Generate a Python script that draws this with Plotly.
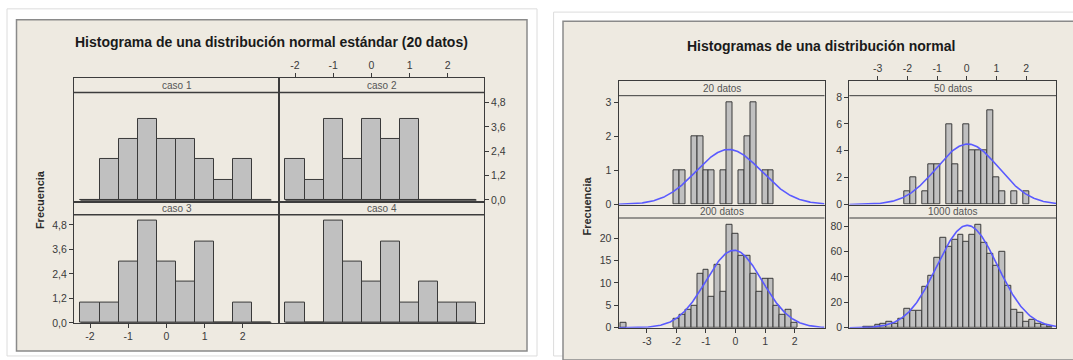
import numpy as np
import plotly.graph_objects as go

W, H = 1073, 360

# ------------------------------------------------------------------ data
left_title = "Histograma de una distribución normal estándar (20 datos)"
left_panels = ["caso 1", "caso 2", "caso 3", "caso 4"]
left_bins = [-2.0, -1.5, -1.0, -0.5, 0.0, 0.5, 1.0, 1.5, 2.0, 2.5]
caso1 = [0, 2, 3, 4, 3, 3, 2, 1, 2, 0]
caso2 = [2, 1, 4, 2, 4, 3, 4, 0, 0, 0]
caso3 = [1, 1, 3, 5, 3, 2, 4, 0, 1, 0]
caso4 = [1, 0, 5, 3, 2, 4, 1, 2, 1, 1]
left_yticks = [0, 1.2, 2.4, 3.6, 4.8]
left_xticks = [-2, -1, 0, 1, 2]
left_xticktext = ["-2", "-1", "0", "1", "2"]

right_title = "Histogramas de una distribución normal"
right_panels = ["20 datos", "50 datos", "200 datos", "1000 datos"]
bins20 = [-2.0, -1.8, -1.4, -1.2, -1.0, -0.8, -0.4, -0.2, 0.2, 0.4, 0.6, 1.0, 1.2]
counts20 = [1, 1, 2, 2, 1, 1, 1, 3, 1, 2, 3, 1, 1]
bins50 = [-2.0, -1.8, -1.4, -1.2, -1.0, -0.6, -0.4, -0.2, 0.0, 0.2, 0.4, 0.6,
          0.8, 1.0, 1.2, 1.6, 2.0]
counts50 = [1, 2, 1, 3, 3, 6, 3, 1, 6, 4, 4, 4, 7, 2, 1, 1, 1]
bins200 = [-3.8, -2.0, -1.8, -1.6, -1.4, -1.2, -1.0, -0.8, -0.6, -0.4, -0.2,
           0.0, 0.2, 0.4, 0.6, 0.8, 1.0, 1.2, 1.4, 1.6, 1.8, 2.0]
counts200 = [1, 2, 3, 4, 5, 12, 13, 7, 14, 8, 23, 21, 16, 16, 12, 8, 11, 11,
             5, 3, 4, 1]
bins1000 = [-3.4, -3.2, -3.0, -2.8, -2.6, -2.4, -2.2, -2.0, -1.8, -1.6, -1.4,
            -1.2, -1.0, -0.8, -0.6, -0.4, -0.2, 0.0, 0.2, 0.4, 0.6, 0.8, 1.0,
            1.2, 1.4, 1.6, 1.8, 2.0, 2.2, 2.4, 2.6, 2.8]
counts1000 = [1, 1, 2, 3, 5, 3, 7, 15, 13, 13, 32, 41, 55, 71, 64, 69, 73, 68,
              73, 81, 67, 58, 49, 60, 33, 14, 12, 5, 6, 3, 2, 1]
# fitted normal curves: (mean, sd, peak height)
fit20 = (-0.23, 1.10, 1.62)
fit50 = (0.03, 1.05, 4.5)
fit200 = (-0.05, 0.95, 17.3)
fit1000 = (0.02, 1.02, 80.6)
right_yticks = [[0, 1, 2, 3], [0, 2, 4, 6, 8], [0, 5, 10, 15, 20],
                [0, 20, 40, 60, 80]]
right_xticks = [-3, -2, -1, 0, 1, 2]
right_xticktext = ["-3", "-2", "-1", "0", "1", "2"]

# ------------------------------------------------------------------ layout geometry (pixels)
left_cells = [
    dict(x0=74, x1=279, strip=79.3, top=94, zero=203.3, bottom=205, ytop=5.3),
    dict(x0=279, x1=484, strip=79.3, top=94, zero=203.3, bottom=205, ytop=5.3),
    dict(x0=74, x1=279, strip=205, top=218.3, zero=328.3, bottom=328.3, ytop=5.3),
    dict(x0=279, x1=484, strip=205, top=218.3, zero=328.3, bottom=328.3, ytop=5.3),
]
right_cells = [
    dict(x0=618.5, x1=824.5, strip=82.7, top=97.3, zero=208.0, bottom=208.0, ytop=3.2),
    dict(x0=849.3, x1=1056, strip=82.7, top=97.3, zero=208.0, bottom=208.0, ytop=8.1),
    dict(x0=618.5, x1=824.5, strip=209.3, top=221.7, zero=333.3, bottom=333.3, ytop=24.5),
    dict(x0=849.3, x1=1056, strip=209.3, top=221.7, zero=333.3, bottom=333.3, ytop=86.4),
]
left_xrange = [-2.42, 2.95]
right_xrange = [-3.96, 3.01]

FONT = "Liberation Sans"
TICKC = "#3a3a3a"
LINEC = "#3c3c3c"
BARFILL = "#c0c0c0"
BARLINE = "#3a3a3a"
CURVE = "#5a5aff"


def px(x):
    return x / W


def py(y):
    return 1 - y / H


fig = go.Figure()
layout_axes = {}
shapes = []
annotations = []

# background cards
shapes.append(dict(type="rect", xref="paper", yref="paper", x0=px(7), x1=px(537),
                   y0=py(362), y1=py(9), fillcolor="white",
                   line=dict(color="#dcdcdc", width=1), layer="below"))
shapes.append(dict(type="rect", xref="paper", yref="paper", x0=px(16.5), x1=px(527),
                   y0=py(357), y1=py(20), fillcolor="#eeeae1",
                   line=dict(color="#8a8a8a", width=1.5), layer="below"))
shapes.append(dict(type="rect", xref="paper", yref="paper", x0=px(553.6), x1=px(1080),
                   y0=py(362), y1=py(12.3), fillcolor="white",
                   line=dict(color="#dcdcdc", width=1), layer="below"))
shapes.append(dict(type="rect", xref="paper", yref="paper", x0=px(563), x1=px(1085),
                   y0=py(366), y1=py(21.7), fillcolor="#eeeae1",
                   line=dict(color="#8a8a8a", width=1.5), layer="below"))


def add_cell(i, cell, xrange, label, strip_w):
    ppu = (cell["zero"] - cell["top"]) / cell["ytop"]
    yr = [-(cell["bottom"] - cell["zero"]) / ppu, (cell["zero"] - cell["strip"]) / ppu]
    sfx = "" if i == 1 else str(i)
    layout_axes["xaxis" + sfx] = dict(
        domain=[px(cell["x0"]), px(cell["x1"])], range=xrange, anchor="y" + sfx,
        showline=True, mirror=True, linecolor=LINEC, linewidth=1,
        showgrid=False, zeroline=False, showticklabels=False, ticks="",
        fixedrange=True)
    layout_axes["yaxis" + sfx] = dict(
        domain=[py(cell["bottom"]), py(cell["strip"])], range=yr, anchor="x" + sfx,
        showline=True, mirror=True, linecolor=LINEC, linewidth=1,
        showgrid=False, zeroline=False, showticklabels=False, ticks="",
        fixedrange=True)
    shapes.append(dict(type="line", xref="paper", yref="paper",
                       x0=px(cell["x0"]), x1=px(cell["x1"]),
                       y0=py(cell["top"]), y1=py(cell["top"]),
                       line=dict(color=LINEC, width=strip_w)))
    annotations.append(dict(text=label, xref="paper", yref="paper",
                            x=px((cell["x0"] + cell["x1"]) / 2),
                            y=py((cell["strip"] + cell["top"]) / 2),
                            showarrow=False, xanchor="center", yanchor="middle",
                            font=dict(family=FONT, size=10, color="#555555")))
    return "x" + sfx, "y" + sfx


def tick_axis(ax, vals, text=None, side=None, fmt=None):
    d = dict(showticklabels=True, ticks="outside", ticklen=4, tickwidth=1,
             tickcolor=TICKC, tickvals=vals,
             tickfont=dict(family=FONT, size=10.5, color=TICKC))
    if text is not None:
        d["ticktext"] = text
    if side is not None:
        d["side"] = side
    if fmt is not None:
        d["tickformat"] = fmt
    layout_axes[ax].update(d)


# -------- left group
left_data = [caso1, caso2, caso3, caso4]
lw = left_bins[1] - left_bins[0]
for k, (cell, counts, label) in enumerate(zip(left_cells, left_data, left_panels)):
    xa, ya = add_cell(k + 1, cell, left_xrange, label, 1.5)
    fig.add_trace(go.Bar(x=left_bins, y=counts, width=lw, xaxis=xa, yaxis=ya,
                         marker=dict(color=BARFILL, line=dict(color=BARLINE, width=1)),
                         showlegend=False, hoverinfo="x+y"))
    edges = [min(left_bins) - lw / 2, max(left_bins) + lw / 2]
    fig.add_trace(go.Scatter(x=edges, y=[0, 0], mode="lines", xaxis=xa, yaxis=ya,
                             line=dict(color=BARLINE, width=1.5),
                             showlegend=False, hoverinfo="skip"))

tick_axis("xaxis2", left_xticks, left_xticktext, side="top")
tick_axis("yaxis2", left_yticks, side="right", fmt=".1f")
tick_axis("xaxis3", left_xticks, left_xticktext)
tick_axis("yaxis3", left_yticks, fmt=".1f")

# -------- right group
right_bins = [bins20, bins50, bins200, bins1000]
right_counts = [counts20, counts50, counts200, counts1000]
right_fits = [fit20, fit50, fit200, fit1000]
for k, (cell, b, c, fit, label) in enumerate(zip(right_cells, right_bins, right_counts,
                                                 right_fits, right_panels)):
    idx = k + 5
    xa, ya = add_cell(idx, cell, right_xrange, label, 1)
    fig.add_trace(go.Bar(x=b, y=c, width=0.2, xaxis=xa, yaxis=ya,
                         marker=dict(color=BARFILL, line=dict(color=BARLINE, width=1)),
                         showlegend=False, hoverinfo="x+y"))
    mu, sd, peak = fit
    xs = np.linspace(right_xrange[0], right_xrange[1], 300)
    ys = peak * np.exp(-0.5 * ((xs - mu) / sd) ** 2)
    fig.add_trace(go.Scatter(x=xs, y=ys, mode="lines", xaxis=xa, yaxis=ya,
                             line=dict(color=CURVE, width=1.6),
                             showlegend=False, hoverinfo="skip"))
    tick_axis("yaxis" + str(idx), right_yticks[k])

tick_axis("xaxis6", right_xticks, right_xticktext, side="top")
tick_axis("xaxis7", right_xticks, right_xticktext)

# -------- titles / labels
annotations.append(dict(text="<b>" + left_title + "</b>", xref="paper", yref="paper",
                        x=px(271), y=py(43), showarrow=False, xanchor="center",
                        yanchor="middle", font=dict(family=FONT, size=14, color="#1a1a1a")))
annotations.append(dict(text="<b>" + right_title + "</b>", xref="paper", yref="paper",
                        x=px(820.5), y=py(46.5), showarrow=False, xanchor="center",
                        yanchor="middle", font=dict(family=FONT, size=14, color="#1a1a1a")))
annotations.append(dict(text="<b>Frecuencia</b>", xref="paper", yref="paper",
                        x=px(39.5), y=py(203), showarrow=False, textangle=-90,
                        xanchor="center", yanchor="middle",
                        font=dict(family=FONT, size=11, color="#2a2a2a")))
annotations.append(dict(text="<b>Frecuencia</b>", xref="paper", yref="paper",
                        x=px(586), y=py(210), showarrow=False, textangle=-90,
                        xanchor="center", yanchor="middle",
                        font=dict(family=FONT, size=11, color="#2a2a2a")))

fig.update_layout(
    width=W, height=H, margin=dict(l=0, r=0, t=0, b=0, pad=0),
    paper_bgcolor="white", plot_bgcolor="white",
    separators=",.", barmode="overlay", bargap=0,
    shapes=shapes, annotations=annotations, showlegend=False,
    font=dict(family=FONT),
    **layout_axes,
)

fig.write_html("out.html", config={"displayModeBar": False},
               post_script="document.body.style.margin='0';document.body.style.overflow='hidden';")
